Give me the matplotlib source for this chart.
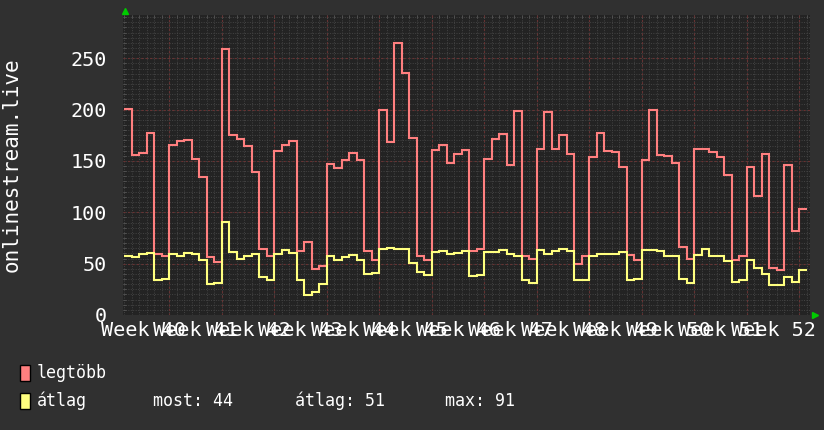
import matplotlib
matplotlib.use("Agg")
import matplotlib.pyplot as plt
from matplotlib.patches import Rectangle
from matplotlib.ticker import MultipleLocator

# napi adatok (nap 1..91), heti bontás
weeks = [40, 41, 42, 43, 44, 45, 46, 47, 48, 49, 50, 51, 52]
week_labels = ["Week %d" % w for w in weeks]

legtobb = [201, 156, 158, 177, 59, 57, 166, 169, 170, 152, 134, 56, 52, 259, 175,
           171, 165, 139, 64, 57, 160, 166, 169, 62, 71, 45, 48, 147, 143, 151,
           158, 151, 62, 54, 200, 168, 265, 236, 172, 57, 54, 161, 166, 148, 157,
           161, 62, 64, 152, 171, 176, 146, 199, 57, 55, 162, 198, 162, 175, 157,
           50, 57, 154, 177, 160, 159, 144, 58, 54, 151, 200, 156, 155, 148, 66,
           55, 162, 162, 159, 154, 136, 54, 57, 144, 116, 157, 46, 44, 146, 82, 103]

atlag = [57, 56, 59, 60, 34, 35, 59, 57, 60, 59, 54, 30, 31, 91, 61,
         55, 57, 59, 37, 34, 59, 63, 60, 34, 19, 22, 30, 57, 54, 56,
         58, 54, 40, 41, 64, 65, 64, 64, 51, 42, 39, 61, 62, 59, 60,
         62, 38, 39, 61, 61, 63, 59, 57, 34, 31, 63, 59, 62, 64, 62,
         34, 34, 57, 59, 59, 59, 61, 34, 35, 63, 63, 62, 57, 57, 35,
         31, 58, 64, 57, 57, 53, 32, 34, 54, 46, 40, 29, 29, 37, 32, 44]

most, atl, mx = 44, 51, 91

red = "#ff7f7f"
yellow = "#ffff7f"
mono = "DejaVu Sans Mono"

fig = plt.figure(figsize=(8.24, 4.30), dpi=100, facecolor="#303030")
ax = fig.add_axes([123.3 / 824, 1 - 315 / 430, 686.4 / 824, 300 / 430])
ax.set_facecolor("#232323")

days = list(range(1, len(legtobb) + 2))
x_max = 92.4
y_max = 292.1

# rács: napi / 5-ös pontozott, heti / 50-es piros
for d in range(1, 93):
    ax.axvline(d, color="#444444", lw=0.7, linestyle=(0, (1, 1.5)), zorder=1)
for v in range(5, 295, 5):
    ax.axhline(v, color="#444444", lw=0.7, linestyle=(0, (1, 1.5)), zorder=1)
for w in range(7, 93, 7):
    ax.axvline(w, color="#663232", lw=0.8, linestyle=(0, (2, 2)), zorder=2)
for v in range(50, 300, 50):
    ax.axhline(v, color="#663232", lw=0.8, linestyle=(0, (2, 2)), zorder=2)

ax.stairs(legtobb, days, color=red, lw=1.5, zorder=3, baseline=None)
ax.stairs(atlag, days, color=yellow, lw=1.5, zorder=4, baseline=None)

ax.set_xlim(0.88, x_max)
ax.set_ylim(0, y_max)

ax.set_xticks([3.5 + 7 * i for i in range(len(weeks))], week_labels)
ax.set_yticks(range(0, 300, 50))
ax.yaxis.set_minor_locator(MultipleLocator(5))
ax.xaxis.set_minor_locator(MultipleLocator(1))
ax.tick_params(axis="both", which="major", length=0, colors="white", labelsize=14.5)
ax.tick_params(axis="x", which="major", pad=4)
ax.tick_params(axis="y", which="major", pad=11.5)
ax.tick_params(which="minor", direction="in", length=2.5, color="#555555",
               top=True, bottom=False, left=True, right=False)
for lab in ax.get_xticklabels() + ax.get_yticklabels():
    lab.set_family(mono)
for s in ax.spines.values():
    s.set_visible(False)

# zöld nyilak
ax.plot([0.002], [1.015], marker="^", color="#00cc00", markersize=5,
        transform=ax.transAxes, clip_on=False)
ax.plot([1.007], [0.0], marker=">", color="#00cc00", markersize=5,
        transform=ax.transAxes, clip_on=False)

fig.text(12 / 824, 1 - 165 / 430, "onlinestream.live", rotation=90, color="white",
         fontsize=15, family=mono, ha="center", va="center")

# jelmagyarázat
fig.add_artist(Rectangle((20 / 824, 1 - 381 / 430), 10 / 824, 16 / 430,
                         facecolor=red, edgecolor="black", lw=1))
fig.add_artist(Rectangle((20 / 824, 1 - 409 / 430), 10 / 824, 16 / 430,
                         facecolor=yellow, edgecolor="black", lw=1))
leg_kw = dict(color="white", fontsize=12, family=mono, va="center", ha="left")
fig.text(37 / 824, 1 - 373 / 430, "legtöbb", **leg_kw)
fig.text(37 / 824, 1 - 401 / 430, "átlag", **leg_kw)
fig.text(153 / 824, 1 - 401 / 430, "most: %d" % most, **leg_kw)
fig.text(295 / 824, 1 - 401 / 430, "átlag: %d" % atl, **leg_kw)
fig.text(445 / 824, 1 - 401 / 430, "max: %d" % mx, **leg_kw)

fig.savefig("out.png", dpi=100, facecolor=fig.get_facecolor())
